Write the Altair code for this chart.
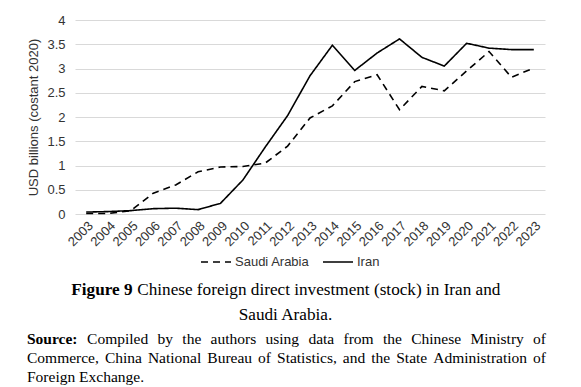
import altair as alt
import pandas as pd

years = [str(y) for y in range(2003, 2024)]
iran = [0.04, 0.05, 0.07, 0.11, 0.12, 0.09, 0.22, 0.70, 1.38, 2.03, 2.85, 3.48, 2.96, 3.32, 3.61, 3.23, 3.05, 3.52, 3.42, 3.39, 3.39]
saudi = [0.01, 0.01, 0.07, 0.43, 0.60, 0.87, 0.97, 0.98, 1.05, 1.40, 1.98, 2.23, 2.73, 2.87, 2.15, 2.63, 2.54, 2.95, 3.35, 2.82, 3.01]
series_names = ["Saudi Arabia", "Iran"]

caption_bold = "Figure 9"
caption_line1 = "Chinese foreign direct investment (stock) in Iran and"
caption_line2 = "Saudi Arabia."
source_bold = "Source:"
source_lines = [
    "Compiled by the authors using data from the Chinese Ministry of",
    "Commerce, China National Bureau of Statistics, and the State Administration of",
    "Foreign Exchange.",
]

# ---- layout constants (pixels) ----
W, H = 470, 194
OX, OY = 75, 20  # plot origin on page
SANS = "Liberation Sans"
SERIF = "Liberation Serif"

# Times metrics (1/1000 em) for layout of the caption text
ROMAN = {" ": 250, "(": 333, ")": 333, ",": 250, ".": 250, ":": 278,
         "A": 722, "B": 667, "C": 667, "E": 611, "F": 556, "I": 333, "M": 889, "N": 722, "S": 556,
         "a": 444, "b": 500, "c": 444, "d": 500, "e": 444, "f": 333, "g": 500, "h": 500, "i": 278,
         "k": 500, "l": 278, "m": 778, "n": 500, "o": 500, "p": 500, "r": 333, "s": 389, "t": 278,
         "u": 500, "v": 500, "w": 722, "x": 500, "y": 500}
BOLD = {" ": 250, ":": 333, "9": 500, "F": 611, "S": 556, "i": 278, "g": 500, "u": 556,
        "r": 444, "e": 444, "o": 500, "c": 444}


def tw(s, size, table):
    return sum(table.get(ch, 500) for ch in s) * size / 1000.0


rows = []
for name, vals in zip(["Iran", "Saudi Arabia"], [iran, saudi]):
    for y, v in zip(years, vals):
        rows.append({"year": y, "value": v, "country": name})
df = pd.DataFrame(rows)

lines = alt.Chart(df).mark_line(color="black", strokeWidth=1.6).encode(
    x=alt.X("year:O", scale=alt.Scale(type="point", padding=0.5),
            axis=alt.Axis(title=None, labelAngle=315, labelFont=SANS, labelFontSize=13,
                          labelColor="#333333", ticks=False, domain=False, grid=False,
                          labelPadding=5)),
    y=alt.Y("value:Q", scale=alt.Scale(domain=[0, 4], nice=False),
            axis=alt.Axis(values=[0, 0.5, 1, 1.5, 2, 2.5, 3, 3.5, 4], format="~g",
                          title="USD billions (costant 2020)", titleFont=SANS,
                          titleFontSize=13, titleFontWeight="normal", titleColor="#333333",
                          titlePadding=6, labelFont=SANS, labelFontSize=13,
                          labelColor="#333333", labelPadding=10, ticks=False, domain=False,
                          grid=True, gridColor="#d9d9d9", gridWidth=1)),
    strokeDash=alt.StrokeDash("country:N",
                              scale=alt.Scale(domain=series_names, range=[[7, 5], [1, 0]]),
                              legend=alt.Legend(title=None, orient="none", direction="horizontal",
                                                legendX=125, legendY=226, symbolType="stroke",
                                                symbolSize=900, symbolStrokeWidth=1.6,
                                                symbolStrokeColor="black", labelFont=SANS,
                                                labelFontSize=13, labelColor="#333333",
                                                labelOffset=3, columnPadding=9, padding=0)),
)

# ---- caption words ----
cap_size = 17.2
src_size = 15.5
bold_rows, reg_rows = [], []

# caption line 1 centred
cx = 286
bw = tw(caption_bold + " ", cap_size, BOLD)
rw = tw(caption_line1, cap_size, ROMAN)
left = cx - (bw + rw) / 2
bold_rows.append({"t": caption_bold, "px": left - OX, "py": 295 - OY, "s": cap_size})
reg_rows.append({"t": caption_line1, "px": left + bw - OX, "py": 295 - OY, "s": cap_size})
w2 = tw(caption_line2, cap_size, ROMAN)
reg_rows.append({"t": caption_line2, "px": cx - w2 / 2 - OX, "py": 320 - OY, "s": cap_size})

# source paragraph, justified between x=27 and x=546
L, R = 27, 546
base_y = [344, 363, 381.5]
for i, line in enumerate(source_lines):
    words = line.split(" ")
    items = []
    if i == 0:
        items.append((source_bold, tw(source_bold, src_size, BOLD), True))
    for wd in words:
        items.append((wd, tw(wd, src_size, ROMAN), False))
    total = sum(w for _, w, _ in items)
    gaps = len(items) - 1
    if i < len(source_lines) - 1:
        gap = (R - L - total) / gaps
    else:
        gap = tw(" ", src_size, ROMAN)
    x = L
    for t, w, b in items:
        rec = {"t": t, "px": x - OX, "py": base_y[i] - OY, "s": src_size}
        (bold_rows if b else reg_rows).append(rec)
        x += w + gap


def text_layer(rows_, weight):
    return alt.Chart(pd.DataFrame(rows_)).mark_text(
        font=SERIF, fontWeight=weight, align="left", baseline="alphabetic", color="black"
    ).encode(
        x=alt.X("px:Q", scale=None, axis=None),
        y=alt.Y("py:Q", scale=None, axis=None),
        text="t:N",
        size=alt.Size("s:Q", scale=None, legend=None),
    )


chart = alt.layer(lines, text_layer(reg_rows, "normal"), text_layer(bold_rows, "bold")).resolve_scale(
    x="independent", y="independent", size="independent"
).properties(
    width=W, height=H,
    autosize=alt.AutoSizeParams(type="none"),
    padding={"left": OX - 8, "top": OY - 8, "right": 565 - (OX - 8) - W, "bottom": 387 - OY - H},
    background="white",
).configure_view(stroke=None)

chart.save("out.html", embed_options={"renderer": "svg", "actions": False})
